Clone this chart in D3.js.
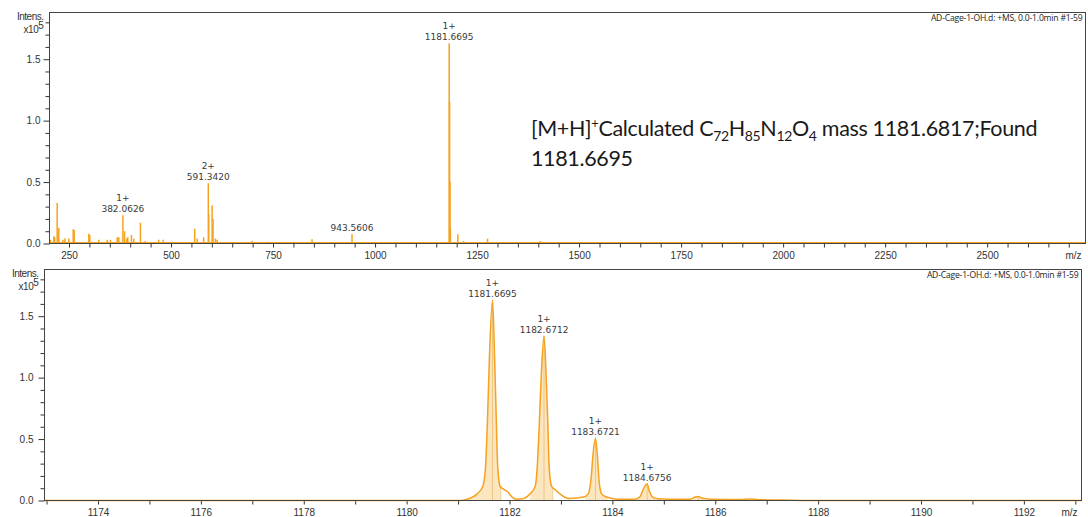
<!DOCTYPE html>
<html><head><meta charset="utf-8">
<script src="https://cdn.jsdelivr.net/npm/d3@7"></script>
<style>
html,body{margin:0;padding:0;background:#fff;}
svg{display:block;}
</style></head><body>
<svg id="chart" width="1088" height="517"></svg>
<script>
// Full-range spectrum: centroid m/z and intensity (x10^5)
const fullMz = [204.7, 212.8, 215, 221, 225, 235, 240, 249.5, 260.3, 262.7, 298.5, 301, 323, 343.6, 351.6, 368, 372,
  382.0626, 386, 391, 394, 403, 408.7, 425, 437, 470, 480.7, 502.8, 558, 564, 580, 591.342, 592.4, 600.7, 603, 608.8, 613,
  698.7, 739, 800.6, 845.6, 943.5606, 1057.7, 1181.6695, 1182.6712, 1183.6721, 1184.6756, 1203, 1217, 1275.7, 1317, 1404.8];
const fullInt = [0.03, 0.06, 0.05, 0.33, 0.127, 0.03, 0.04, 0.04, 0.116, 0.11, 0.08, 0.07, 0.03, 0.03, 0.03, 0.05, 0.05,
  0.23, 0.1, 0.04, 0.05, 0.07, 0.04, 0.17, 0.02, 0.03, 0.03, 0.015, 0.12, 0.04, 0.05, 0.49, 0.24, 0.31, 0.2, 0.04, 0.03,
  0.02, 0.015, 0.015, 0.035, 0.076, 0.01, 1.63, 1.15, 0.5, 0.13, 0.076, 0.02, 0.04, 0.01, 0.02];
// Annotated peaks of the full-range spectrum
const fullLabelMz = [382.0626, 591.3420, 943.5606, 1181.6695];
const fullLabelInt = [0.23, 0.49, 0.076, 1.63];
const fullLabelCharge = ["1+", "2+", "", "1+"];
const fullLabelText = ["382.0626", "591.3420", "943.5606", "1181.6695"];

// Isotope cluster profile around the [M+H]+ ion
const zoomMz = [1172.96, 1181.05, 1181.17, 1181.27, 1181.37, 1181.48, 1181.53, 1181.57, 1181.61, 1181.6695, 1181.71, 1181.745,
  1181.77, 1181.82, 1181.88, 1181.96, 1182.05, 1182.14, 1182.27, 1182.40, 1182.50, 1182.54, 1182.58, 1182.62, 1182.6712,
  1182.71, 1182.745, 1182.77, 1182.82, 1182.89, 1182.98, 1183.11, 1183.18, 1183.44, 1183.53, 1183.59, 1183.62, 1183.6721,
  1183.71, 1183.74, 1183.79, 1183.89, 1184.09, 1184.44, 1184.54, 1184.62, 1184.6756, 1184.72, 1184.80, 1184.89, 1185.06,
  1185.51, 1185.61, 1185.67, 1185.74, 1185.90, 1186.5, 1186.68, 1186.85, 1187.3, 1187.8, 1193.12];
const zoomInt = [0, 0, 0.01, 0.025, 0.054, 0.114, 0.25, 0.63, 1.17, 1.632, 1.17, 0.63,
  0.28, 0.114, 0.093, 0.073, 0.028, 0.011, 0.016, 0.054, 0.114, 0.28, 0.63, 1.04, 1.339,
  1.04, 0.63, 0.28, 0.114, 0.087, 0.054, 0.02, 0.016, 0.028, 0.054, 0.195, 0.358, 0.507,
  0.358, 0.168, 0.054, 0.028, 0.011, 0.011, 0.033, 0.109, 0.136, 0.073, 0.024, 0.014, 0.011,
  0.011, 0.028, 0.033, 0.02, 0.011, 0.008, 0.012, 0.007, 0.004, 0, 0];
const isoMz = [1181.6695, 1182.6712, 1183.6721, 1184.6756];
const isoInt = [1.632, 1.339, 0.507, 0.136];
const isoCharge = ["1+", "1+", "1+", "1+"];
const isoText = ["1181.6695", "1182.6712", "1183.6721", "1184.6756"];
// Shaded integration windows under each isotope peak
const fillStart = [1181.17, 1182.40, 1183.47, 1184.47, 1185.57];
const fillEnd = [1181.83, 1182.84, 1183.89, 1184.93, 1185.76];
const fillApex = [1181.6695, 1182.6712, 1183.6721, 1184.6756, 1185.67];
const fillApexInt = [1.632, 1.339, 0.507, 0.136, 0.033];

// Axis ticks
const yMajor = [0, 0.5, 1.0, 1.5];
const yMinor = [0.1, 0.2, 0.3, 0.4, 0.6, 0.7, 0.8, 0.9, 1.1, 1.2, 1.3, 1.4, 1.6, 1.7, 1.8];
const fullXMajor = [250, 500, 750, 1000, 1250, 1500, 1750, 2000, 2250, 2500];
const fullXAll = d3.range(250, 2701, 50);
const zoomXMajor = [1174, 1176, 1178, 1180, 1182, 1184, 1186, 1188, 1190, 1192];
const zoomXAll = d3.range(1173, 1193.5, 1);

const fileLabel = "AD-Cage-1-OH.d: +MS, 0.0-1.0min #1-59";
const ORANGE = "#F5A21E";
const TEXT = "#333";

const svg = d3.select("#chart");

function panel(p) {
  const g = svg.append("g");
  const x = d3.scaleLinear().domain(p.xDomain).range([p.left, p.right]);
  const y = d3.scaleLinear().domain([0, p.yMax]).range([p.bottom, p.top]);

  // y axis: minor then major ticks
  const yMinorAxis = d3.axisLeft(y).tickValues(yMinor).tickSize(4).tickFormat("");
  const yMajorAxis = d3.axisLeft(y).tickValues(yMajor).tickSize(6).tickPadding(p.yPad).tickFormat(d3.format(".1f"));
  [yMinorAxis, yMajorAxis].forEach(ax => {
    const a = g.append("g").attr("transform", `translate(${p.left},0)`).call(ax);
    a.select(".domain").remove();
    a.selectAll("line").attr("stroke", "#333");
    a.selectAll("text").attr("fill", TEXT).style("font", "10px 'Liberation Sans', Arial, sans-serif");
  });

  // x axis: every tick, labels on majors only
  const xAxis = d3.axisBottom(x).tickValues(p.xAll).tickSize(4).tickPadding(4)
    .tickFormat(d => p.xMajor.includes(d) ? String(d) : "");
  const xa = g.append("g").attr("transform", `translate(0,${p.bottom})`).call(xAxis);
  xa.select(".domain").remove();
  xa.selectAll("line").attr("stroke", "#333");
  xa.selectAll("text").attr("fill", TEXT).style("font", "10px 'Liberation Sans', Arial, sans-serif");

  g.append("text").attr("x", p.right - 4).attr("y", p.bottom + 15)
    .attr("text-anchor", "end").attr("fill", TEXT)
    .style("font", "10px 'Liberation Sans', Arial, sans-serif").text("m/z");

  // y title
  g.append("text").attr("x", p.left - 6).attr("y", p.top + 7)
    .attr("text-anchor", "end").attr("fill", TEXT)
    .style("font", "10px 'Liberation Sans', Arial, sans-serif").style("letter-spacing", "-0.5px")
    .text("Intens.");
  const t2 = g.append("text").attr("x", p.left - 6).attr("y", p.top + 20)
    .attr("text-anchor", "end").attr("fill", TEXT)
    .style("font", "10px 'Liberation Sans', Arial, sans-serif").style("letter-spacing", "-0.4px");
  t2.append("tspan").text("x10");
  t2.append("tspan").attr("dy", -4).text("5");

  // file label
  g.append("text").attr("x", p.right - 3).attr("y", p.top + 8)
    .attr("text-anchor", "end").attr("fill", "#222")
    .style("font", "8.6px 'Open Sans', sans-serif").style("letter-spacing", "-0.2px")
    .text(fileLabel);

  return {g, x, y};
}

function peakLabels(P, mz, val, charge, text) {
  const lg = P.g.append("g").attr("fill", "#3a3a3a")
    .style("font", "9px 'DejaVu Sans', Verdana, sans-serif").attr("text-anchor", "middle");
  mz.forEach((m, i) => {
    const px = P.x(m), py = P.y(val[i]);
    lg.append("text").attr("x", px).attr("y", py - 3).text(text[i]);
    if (charge[i]) lg.append("text").attr("x", px).attr("y", py - 14).text(charge[i]);
  });
}

// ---------- full-range spectrum ----------
const topP = panel({
  left: 49.5, right: 1085.5, top: 12.5, bottom: 243.5, yMax: 1.88, yPad: 3,
  xDomain: [202.2, 2741], xAll: fullXAll, xMajor: fullXMajor
});
// baseline trace
topP.g.append("line")
  .attr("x1", topP.x(202.2)).attr("x2", topP.x(2741))
  .attr("y1", topP.y(0) - 1).attr("y2", topP.y(0) - 1)
  .attr("stroke", ORANGE).attr("stroke-width", 1.2);
topP.g.append("g").selectAll("line").data(fullMz).join("line")
  .attr("x1", d => topP.x(d)).attr("x2", d => topP.x(d))
  .attr("y1", topP.y(0)).attr("y2", (d, i) => topP.y(fullInt[i]))
  .attr("stroke", ORANGE).attr("stroke-width", 1.5);
peakLabels(topP, fullLabelMz, fullLabelInt, fullLabelCharge, fullLabelText);

// frame on top of the traces
topP.g.append("rect").attr("x", 49.5).attr("y", 12.5).attr("width", 1036).attr("height", 231)
  .attr("fill", "none").attr("stroke", "#444").attr("stroke-width", 1);

// formula annotation
const annFont = "21.5px Lato, 'Open Sans', sans-serif";
const ann = topP.g.append("text").attr("x", 531).attr("y", 136).attr("fill", "#1a1a1a")
  .style("font", annFont).style("letter-spacing", "-0.35px");
ann.append("tspan").text("[M+H]");
ann.append("tspan").attr("dy", -8).style("font-size", "13px").text("+");
ann.append("tspan").attr("dy", 8).text("Calculated C");
ann.append("tspan").attr("dy", 5).style("font-size", "14px").text("72");
ann.append("tspan").attr("dy", -5).text("H");
ann.append("tspan").attr("dy", 5).style("font-size", "14px").text("85");
ann.append("tspan").attr("dy", -5).text("N");
ann.append("tspan").attr("dy", 5).style("font-size", "14px").text("12");
ann.append("tspan").attr("dy", -5).text("O");
ann.append("tspan").attr("dy", 5).style("font-size", "14px").text("4");
ann.append("tspan").attr("dy", -5).text(" mass 1181.6817;Found");
topP.g.append("text").attr("x", 531).attr("y", 166).attr("fill", "#1a1a1a")
  .style("font", annFont).style("letter-spacing", "-0.35px").text("1181.6695");

// ---------- isotope cluster ----------
const botP = panel({
  left: 44.5, right: 1081.5, top: 269.5, bottom: 500.5, yMax: 1.88, yPad: 5,
  xDomain: [1172.96, 1193.12], xAll: zoomXAll, xMajor: zoomXMajor
});
const pts = zoomMz.map((m, i) => [m, zoomInt[i]]);
const area = d3.area().curve(d3.curveMonotoneX)
  .x(d => botP.x(d[0])).y0(botP.y(0)).y1(d => botP.y(d[1]));
const line = d3.line().curve(d3.curveMonotoneX)
  .x(d => botP.x(d[0])).y(d => botP.y(d[1]));

const defs = svg.append("defs");
fillStart.forEach((s, i) => {
  defs.append("clipPath").attr("id", "win" + i).append("rect")
    .attr("x", botP.x(s)).attr("y", botP.y(1.88))
    .attr("width", botP.x(fillEnd[i]) - botP.x(s)).attr("height", botP.y(0) - botP.y(1.88));
  botP.g.append("path").datum(pts).attr("d", area)
    .attr("clip-path", `url(#win${i})`).attr("fill", "#FADDAA").attr("fill-opacity", 0.75);
  botP.g.append("line")
    .attr("x1", botP.x(fillEnd[i])).attr("x2", botP.x(fillEnd[i]))
    .attr("y1", botP.y(0)).attr("y2", botP.y(d3.max(pts.filter(d => d[0] <= fillEnd[i]).slice(-1), d => d[1])))
    .attr("stroke", "#F3CF92").attr("stroke-width", 1);
  botP.g.append("line")
    .attr("x1", botP.x(fillApex[i])).attr("x2", botP.x(fillApex[i]))
    .attr("y1", botP.y(0)).attr("y2", botP.y(fillApexInt[i]))
    .attr("stroke", "#EDC585").attr("stroke-width", 1);
});
botP.g.append("path").datum(pts).attr("d", line)
  .attr("fill", "none").attr("stroke", ORANGE).attr("stroke-width", 1.5);
peakLabels(botP, isoMz, isoInt, isoCharge, isoText);

botP.g.append("rect").attr("x", 44.5).attr("y", 269.5).attr("width", 1037).attr("height", 231)
  .attr("fill", "none").attr("stroke", "#444").attr("stroke-width", 1);
</script>
</body></html>
